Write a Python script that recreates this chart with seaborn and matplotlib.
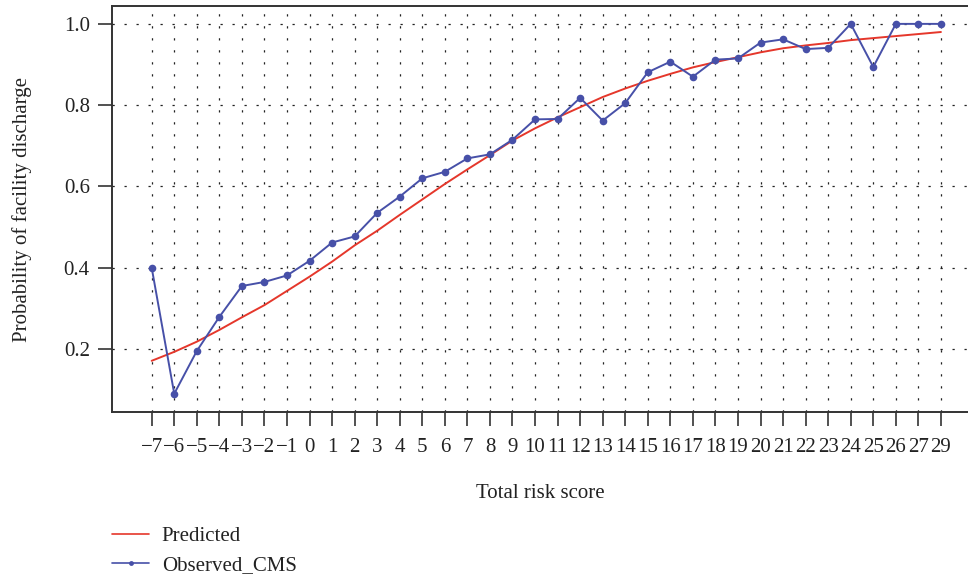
import matplotlib
matplotlib.use('Agg')

import matplotlib.pyplot as plt
import seaborn as sns
import pandas as pd
from matplotlib.lines import Line2D

# total risk score categories (no 28 in the data)
scores = ['-7', '-6', '-5', '-4', '-3', '-2', '-1', '0', '1', '2', '3', '4',
          '5', '6', '7', '8', '9', '10', '11', '12', '13', '14', '15', '16',
          '17', '18', '19', '20', '21', '22', '23', '24', '25', '26', '27', '29']

predicted = [0.171, 0.193, 0.218, 0.247, 0.278, 0.308, 0.343, 0.378, 0.415,
             0.455, 0.491, 0.530, 0.568, 0.606, 0.642, 0.677, 0.713, 0.743,
             0.770, 0.795, 0.820, 0.841, 0.860, 0.877, 0.893, 0.906, 0.918,
             0.930, 0.940, 0.947, 0.953, 0.960, 0.965, 0.970, 0.975, 0.980]

observed = [0.400, 0.090, 0.195, 0.279, 0.355, 0.365, 0.381, 0.417, 0.462,
            0.477, 0.535, 0.575, 0.620, 0.636, 0.669, 0.679, 0.715, 0.765,
            0.766, 0.818, 0.762, 0.805, 0.881, 0.907, 0.870, 0.912, 0.915,
            0.954, 0.962, 0.938, 0.941, 1.000, 0.894, 1.000, 1.000, 1.000]

y_ticks = [0.2, 0.4, 0.6, 0.8, 1.0]

RED = '#e5372b'
BLUE = '#4750a8'
FRAME = '#333333'
TEXT = '#222222'
FS = 15

df = pd.DataFrame({'score': scores, 'Predicted': predicted, 'Observed_CMS': observed})

sns.set_theme(style='white')
plt.rcParams['font.family'] = ['Liberation Serif', 'DejaVu Serif']

fig = plt.figure(figsize=(9.68, 5.77), dpi=100)
ax = fig.add_axes([112 / 968, 165 / 577, 856 / 968, 406 / 577])

sns.lineplot(data=df, x='score', y='Predicted', sort=False, color=RED,
             linewidth=1.4, ax=ax, zorder=3)
sns.lineplot(data=df, x='score', y='Observed_CMS', sort=False, color=BLUE,
             linewidth=1.4, marker='o', markersize=5.5, markeredgewidth=0,
             ax=ax, zorder=4)

ax.set_xlim(-1.76, 36.2)
ax.set_ylim(0.045, 1.044)
ax.set_xticks(range(len(scores)))
ax.set_xticklabels([s.replace('-', '\u2212') for s in scores])
ax.set_yticks(y_ticks)
ax.set_yticklabels([f'{v:.1f}' for v in y_ticks])

# dotted grid at every score and every 0.2
ax.grid(True, color='#222222', linewidth=0.9, linestyle=(0, (1.8, 7.8)))
ax.set_axisbelow(True)

for side in ['left', 'top', 'bottom']:
    ax.spines[side].set_color(FRAME)
    ax.spines[side].set_linewidth(1.4)
ax.spines['right'].set_visible(False)

ax.tick_params(axis='both', direction='out', length=10, width=1.2,
               color=FRAME, labelsize=FS, labelcolor=TEXT,
               bottom=True, left=True)
ax.tick_params(axis='x', pad=9)
ax.tick_params(axis='y', pad=6)

ax.set_xlabel('Total risk score', fontsize=FS, color=TEXT, labelpad=19)
ax.set_ylabel('Probability of facility discharge', fontsize=FS,
              color=TEXT, labelpad=23)

handles = [
    Line2D([], [], color=RED, linewidth=1.2),
    Line2D([], [], color=BLUE, linewidth=1.2, marker='o', markersize=3.5,
           markeredgewidth=0),
]
fig.legend(handles, ['Predicted', 'Observed_CMS'], loc='upper left',
           bbox_to_anchor=(93 / 968, 1 - 508 / 577), frameon=False,
           fontsize=FS, handlelength=1.8, handletextpad=0.6,
           labelspacing=0.45, labelcolor=TEXT)

fig.savefig('out.png', dpi=100)
